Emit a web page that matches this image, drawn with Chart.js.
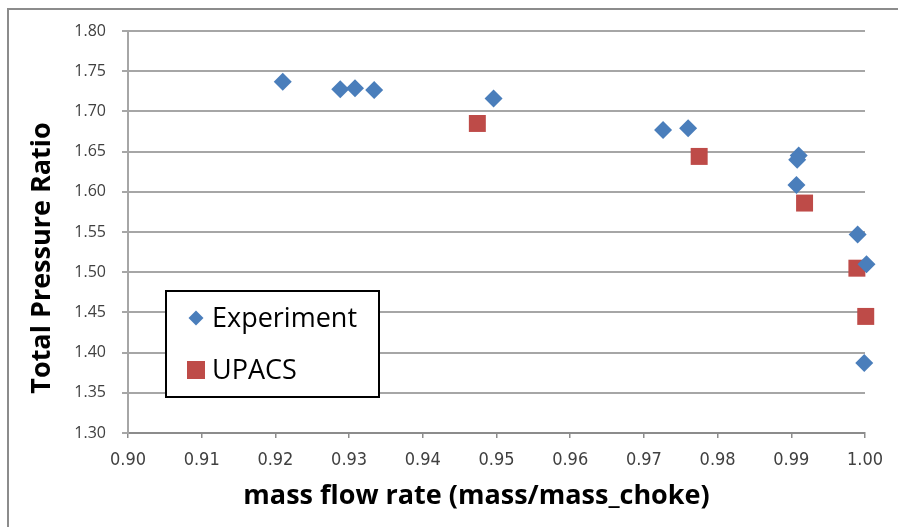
<!DOCTYPE html>
<html>
<head>
<meta charset="utf-8">
<script src="https://cdn.jsdelivr.net/npm/chart.js@4.4.0/dist/chart.umd.min.js"></script>
<style>
  html, body { margin: 0; padding: 0; background: #fff; }
  #wrap { width: 898px; height: 527px; position: relative; }
</style>
</head>
<body>
<div id="wrap"><canvas id="prChart" width="898" height="527"></canvas></div>
<script>
// Experiment data (mass flow ratio, total pressure ratio)
var expFlow = [0.9210, 0.9288, 0.9308, 0.9334, 0.9496, 0.9726, 0.9760, 0.9910, 0.9908, 0.9907, 0.9990, 1.0002, 0.9999];
var expRatio = [1.737, 1.7275, 1.7287, 1.7266, 1.716, 1.677, 1.679, 1.645, 1.640, 1.6085, 1.547, 1.510, 1.387];

// UPACS simulation
var upacsFlow = [0.9474, 0.9775, 0.9918, 0.9989, 1.0001];
var upacsRatio = [1.685, 1.644, 1.586, 1.505, 1.445];

var xTicks = [0.90, 0.91, 0.92, 0.93, 0.94, 0.95, 0.96, 0.97, 0.98, 0.99, 1.00];
var yTicks = [1.30, 1.35, 1.40, 1.45, 1.50, 1.55, 1.60, 1.65, 1.70, 1.75, 1.80];

var seriesNames = ['Experiment', 'UPACS'];

function toPoints(xs, ys) {
    return xs.map(function(x, i) { return { x: x, y: ys[i] }; });
}

// draws frame, axis titles and the boxed legend inside the plot
var decorPlugin = {
    id: 'decor',
    afterDraw: function(chart) {
        var ctx = chart.ctx;
        var area = chart.chartArea;
        ctx.save();

        // outer frame (only top/left visible in original)
        ctx.strokeStyle = '#8c8c8c';
        ctx.lineWidth = 2;
        ctx.beginPath();
        ctx.moveTo(8, 527);
        ctx.lineTo(8, 9);
        ctx.lineTo(898, 9);
        ctx.stroke();

        // axis titles
        ctx.fillStyle = '#000';
        ctx.font = 'bold 27px "Open Sans", sans-serif';
        ctx.textAlign = 'center';
        ctx.textBaseline = 'middle';
        ctx.fillText('mass flow rate (mass/mass_choke)', (area.left + area.right) / 2 - 20, 496);

        ctx.save();
        ctx.translate(42, 258);
        ctx.rotate(-Math.PI / 2);
        ctx.fillText('Total Pressure Ratio', 0, 0);
        ctx.restore();

        // legend box
        var bx = 166, by = 291, bw = 213, bh = 106;
        ctx.fillStyle = '#fff';
        ctx.fillRect(bx, by, bw, bh);
        ctx.strokeStyle = '#000';
        ctx.lineWidth = 2;
        ctx.strokeRect(bx, by, bw, bh);

        ctx.font = '27px "Open Sans", sans-serif';
        ctx.textAlign = 'left';
        chart.data.datasets.forEach(function(ds, i) {
            var cy = 318 + i * 52;
            var cx = 196;
            ctx.fillStyle = ds.backgroundColor;
            if (ds.pointStyle === 'rectRot') {
                var r = 7.5;
                ctx.beginPath();
                ctx.moveTo(cx, cy - r);
                ctx.lineTo(cx + r, cy);
                ctx.lineTo(cx, cy + r);
                ctx.lineTo(cx - r, cy);
                ctx.closePath();
                ctx.fill();
            } else {
                ctx.fillRect(cx - 9, cy - 9, 18, 18);
            }
            ctx.fillStyle = '#000';
            ctx.fillText(ds.label, 212, cy + 1);
        });
        ctx.restore();
    }
};

var ctx = document.getElementById('prChart').getContext('2d');
var prChart = new Chart(ctx, {
    type: 'scatter',
    data: {
        datasets: [{
            label: seriesNames[0],
            data: toPoints(expFlow, expRatio),
            pointStyle: 'rectRot',
            pointRadius: 9,
            pointHoverRadius: 9,
            backgroundColor: '#4a7ebb',
            borderColor: '#4a7ebb',
            borderWidth: 0,
            clip: false
        }, {
            label: seriesNames[1],
            data: toPoints(upacsFlow, upacsRatio),
            pointStyle: 'rect',
            pointRadius: 12,
            pointHoverRadius: 12,
            backgroundColor: '#be4b48',
            borderColor: '#be4b48',
            borderWidth: 0,
            clip: false
        }]
    },
    options: {
        responsive: false,
        animation: false,
        layout: { padding: { left: 0, right: 33, top: 31, bottom: 0 } },
        plugins: {
            legend: { display: false },
            tooltip: { enabled: false }
        },
        scales: {
            x: {
                type: 'linear',
                min: 0.90,
                max: 1.00,
                afterBuildTicks: function(axis) {
                    axis.ticks = xTicks.map(function(v) { return { value: v }; });
                },
                afterFit: function(axis) { axis.height = 94; },
                grid: {
                    drawOnChartArea: false,
                    drawTicks: true,
                    tickLength: 5,
                    color: '#8c8c8c',
                    lineWidth: 1.5
                },
                border: { display: true, color: '#8c8c8c', width: 2 },
                ticks: {
                    padding: 12,
                    color: '#404040',
                    font: { family: '"Liberation Sans Narrow", "DejaVu Sans Condensed", sans-serif', size: 18 },
                    callback: function(v) { return v.toFixed(2); }
                }
            },
            y: {
                type: 'linear',
                min: 1.30,
                max: 1.80,
                afterBuildTicks: function(axis) {
                    axis.ticks = yTicks.map(function(v) { return { value: v }; });
                },
                afterFit: function(axis) { axis.width = 128; },
                grid: {
                    drawTicks: true,
                    tickLength: 6,
                    color: '#a6a6a6',
                    lineWidth: 2
                },
                border: { display: true, color: '#a6a6a6', width: 2 },
                ticks: {
                    padding: 16,
                    color: '#404040',
                    font: { family: '"Open Sans", sans-serif', size: 16 },
                    callback: function(v) { return v.toFixed(2); }
                }
            }
        }
    },
    plugins: [decorPlugin]
});
</script>
</body>
</html>
